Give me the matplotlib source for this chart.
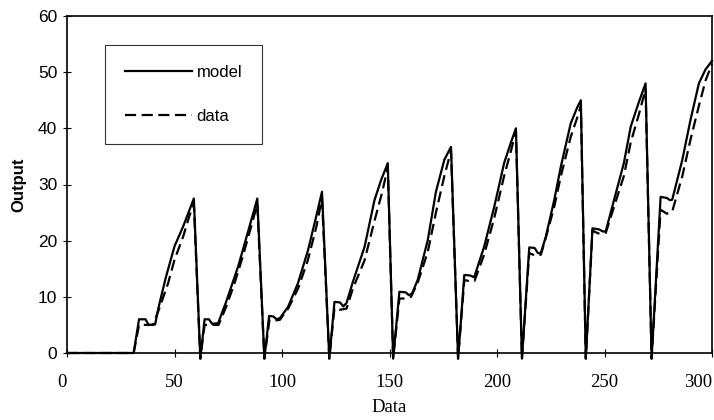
import matplotlib
matplotlib.use("Agg")
import matplotlib.pyplot as plt
from matplotlib.lines import Line2D

# ---- data ----
model_x = [0, 31, 33.5, 36.5, 38, 41, 42.5, 46, 50, 54, 57, 59, 62,
           64, 66, 67.5, 70.3, 74, 79.6, 84.2, 87.3, 88.5, 91.8,
           94, 96, 97.5, 99, 102.8, 107.4, 112.1, 115.9, 118.6, 122,
           124.4, 127, 128.5, 130, 133, 138.4, 143, 146.1, 149.2, 151.7,
           154.6, 157.5, 159, 160.5, 163.1, 167.8, 171.6, 175.5, 178.6, 181.9,
           184.8, 187.5, 189.4, 194, 198.7, 203.3, 206.5, 208.8, 211.6,
           215, 217.5, 219, 220.4, 222.7, 226.6, 229.7, 234.3, 237.4, 239, 241.3,
           244.4, 247.5, 249.5, 250.6, 254.4, 259, 262.2, 266, 269.1, 271.9,
           276.1, 279, 280.5, 281.5, 286.2, 290, 293.9, 297, 300]
model_y = [0, 0, 6.0, 6.0, 5.0, 5.1, 8.0, 13.5, 19.0, 22.5, 25.5, 27.5, -1,
           6.0, 6.0, 5.2, 5.3, 9.1, 15.4, 21.6, 25.8, 27.5, -1,
           6.6, 6.5, 6.0, 6.2, 8.2, 12.4, 18.3, 24.3, 28.7, -1,
           9.1, 9.0, 8.3, 8.9, 12.7, 18.9, 27.2, 30.8, 33.8, -1,
           10.9, 10.8, 10.3, 10.6, 13.0, 20.1, 28.7, 34.4, 36.7, -1,
           13.9, 13.8, 13.5, 18.9, 26.0, 33.8, 37.5, 40.0, -1,
           18.8, 18.7, 17.8, 17.8, 20.7, 27.2, 33.2, 40.9, 43.8, 45.0, -1,
           22.2, 22.0, 21.6, 21.7, 27.2, 33.8, 40.3, 44.7, 48.0, -1,
           27.8, 27.6, 27.2, 27.3, 34.4, 41.5, 48.0, 50.5, 52.0]

data_x = [0, 31, 33.5, 37, 40, 43, 47, 50, 54, 57, 59, 62,
          64, 67, 70.5, 74, 78, 82, 86, 88.5, 91.8,
          94.2, 97, 99, 103, 107.5, 112, 116, 118.6, 122,
          124.4, 127, 130, 133, 138.4, 143, 146.5, 149.2, 151.7,
          154.6, 157, 160, 163.1, 167.8, 171.6, 175.5, 178.6, 181.9,
          184.8, 187, 189.5, 194, 198.7, 203.3, 206.5, 208.8, 211.6,
          215, 218, 220.4, 222.7, 226.6, 229.7, 234.3, 237.4, 239, 241.3,
          244.4, 247, 250.6, 254.4, 259, 262.2, 266, 269.1, 271.9,
          276.1, 279, 281.5, 286.2, 290, 293.9, 297, 300]
data_y = [0, 0, 5.0, 5.0, 5.0, 8.0, 12.4, 16.6, 20.7, 24.5, 26.5, -1,
          5.0, 5.0, 5.0, 8.2, 12.5, 17.5, 23.0, 26.5, -1,
          6.0, 5.8, 5.9, 8.0, 11.5, 16.5, 22.5, 27.5, -1,
          8.0, 7.7, 7.9, 11.5, 16.5, 23.5, 28.5, 33.0, -1,
          9.7, 9.7, 10.0, 12.5, 18.0, 25.0, 31.5, 36.0, -1,
          13.0, 12.8, 12.8, 17.5, 24.0, 31.5, 36.0, 39.5, -1,
          17.8, 17.3, 17.5, 20.5, 26.0, 31.5, 38.5, 42.0, 44.0, -1,
          21.8, 21.3, 21.4, 26.0, 31.5, 37.5, 42.5, 47.0, -1,
          25.5, 24.8, 25.2, 31.5, 38.0, 44.0, 48.5, 51.5]

x_ticks = [0, 50, 100, 150, 200, 250, 300]
y_ticks = [0, 10, 20, 30, 40, 50, 60]
series_labels = ["model", "data"]

fig = plt.figure(figsize=(7.14, 4.2), dpi=100)
ax = fig.add_axes([67/714, 1-353/420, (712-67)/714, (353-16)/420])

ax.plot(model_x, model_y, color="black", lw=1.6, clip_on=False,
        solid_joinstyle="round")
ax.plot(data_x, data_y, color="black", lw=1.6, dashes=(5, 2.5), clip_on=False)

ax.set_xlim(0, 300)
ax.set_ylim(0, 60)
ax.set_xticks(x_ticks)
ax.set_yticks(y_ticks)
ax.set_xticklabels([str(t) for t in x_ticks], family="Liberation Serif", fontsize=13.5)
ax.set_yticklabels([str(t) for t in y_ticks], family="Liberation Sans", fontsize=12.5)
xl = ax.get_xticklabels()
xl[-1].set_horizontalalignment("right")
xl[0].set_horizontalalignment("right")
ax.tick_params(axis="x", direction="inout", length=6, width=0.8, pad=12)
ax.tick_params(axis="y", direction="inout", length=6, width=0.8, pad=4)
for s in ax.spines.values():
    s.set_linewidth(1.2)
    s.set_color("black")

ax.set_xlabel("Data", family="Liberation Serif", fontsize=13.5, labelpad=6)
ax.set_ylabel("Output", family="Liberation Sans", fontsize=12, fontweight="bold", labelpad=8)

handles = [Line2D([], [], color="black", lw=1.6),
           Line2D([], [], color="black", lw=1.6, dashes=(5, 2.5))]
leg = ax.legend(handles, series_labels, loc="upper left",
                bbox_to_anchor=(0.059, 0.914), borderaxespad=0,
                prop={"family": "Liberation Sans", "size": 12},
                handlelength=4.0, handletextpad=0.3, labelspacing=1.75,
                borderpad=1.2, fancybox=False, frameon=True)
leg.get_frame().set_edgecolor("black")
leg.get_frame().set_linewidth(0.8)

fig.savefig("out.png", dpi=100)
